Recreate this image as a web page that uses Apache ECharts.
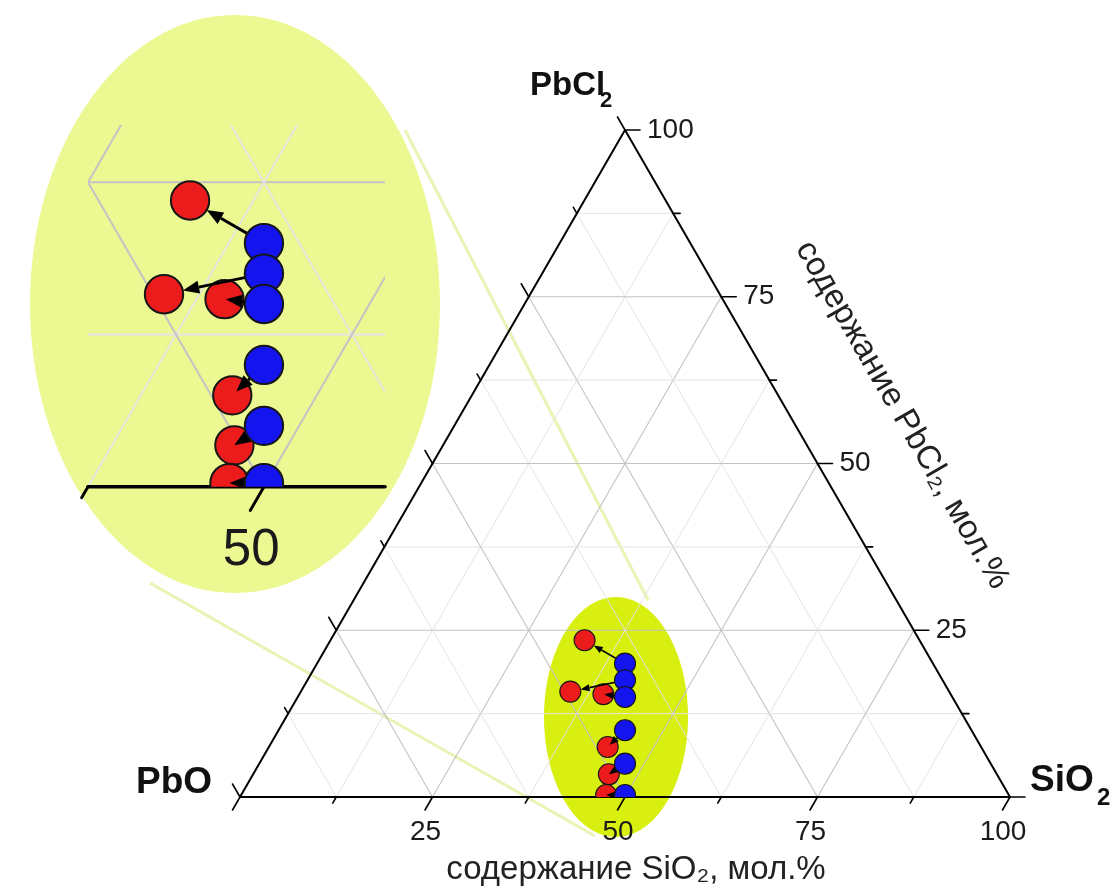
<!DOCTYPE html>
<html>
<head>
<meta charset="utf-8">
<script src="https://cdn.jsdelivr.net/npm/echarts@6.0.0/dist/echarts.min.js"></script>
<style>
  html, body { margin: 0; padding: 0; background: #ffffff; }
  #chart { width: 1120px; height: 889px; }
</style>
</head>
<body>
<div id="chart"></div>
<script>
// PbO – SiO2 – PbCl2 ternary diagram, mol.%
// Starting compositions (blue) and resulting compositions (red)
const blueSiO2  = [40, 41.25, 42.5, 45, 47.5, 49.85];
const bluePbCl2 = [20, 17.5, 15, 10, 5, 0.3];
const redSiO2   = [33.0, 35.0, 39.5, 44.0, 46.2, 47.4];
const redPbCl2  = [23.5, 15.8, 15.4, 7.5, 3.4, 0.3];

// Grid lines and ticks (mol.%)
const gridValues = [12.5, 25, 37.5, 50, 62.5, 75, 87.5];
const tickValues = [0, 12.5, 25, 37.5, 50, 62.5, 75, 87.5, 100];
const majorStep = 25;

// Tick labels: bottom axis = SiO2, right axis = PbCl2
const bottomTickValues = [25, 50, 75, 100];
const bottomTickLabels = ['25', '50', '75', '100'];
const rightTickValues  = [25, 50, 75, 100];
const rightTickLabels  = ['25', '50', '75', '100'];

const FONT = '"Liberation Sans", Arial, Helvetica, sans-serif';
const INSET_K = 1.825;     // magnification of the inset view

// ternary (SiO2, PbCl2) -> cartesian (x, y) in the plot's own units
const tern = (s, p) => [s + p / 2, p];

const chart = echarts.init(document.getElementById('chart'));

function seg(p1, p2, style) {
  return { type: 'line', shape: { x1: p1[0], y1: p1[1], x2: p2[0], y2: p2[1] }, style };
}

function inside(cs, pt) {
  return pt[0] >= cs.x - 1 && pt[0] <= cs.x + cs.width + 1 &&
         pt[1] >= cs.y - 1 && pt[1] <= cs.y + cs.height + 1;
}

function gridLineSeries(gi, k) {
  const data = [];
  gridValues.forEach(v => { data.push([0, v], [1, v], [2, v]); });
  return {
    type: 'custom', xAxisIndex: gi, yAxisIndex: gi, clip: true, z: 2, silent: true,
    data,
    renderItem(params, api) {
      const kind = api.value(0), v = api.value(1);
      let a, b;
      if (kind === 0) { a = tern(0, v); b = tern(100 - v, v); }           // PbCl2 = v
      else if (kind === 1) { a = tern(v, 0); b = tern(v, 100 - v); }      // SiO2 = v
      else { a = tern(100 - v, 0); b = tern(0, 100 - v); }                // PbO = v
      const major = v % majorStep === 0;
      return seg(api.coord(a), api.coord(b), {
        stroke: major ? '#c3c3c3' : '#e4e4e4',
        lineWidth: (major ? 1.1 : 1) * k
      });
    }
  };
}

function edgeSeries(gi, k) {
  return {
    type: 'custom', xAxisIndex: gi, yAxisIndex: gi, clip: false, z: 3, silent: true,
    data: gi === 0 ? [[0], [1], [2]] : [[0]],
    renderItem(params, api) {
      const cs = params.coordSys;
      const kind = api.value(0);
      let p1, p2;
      if (kind === 0) {
        p1 = api.coord(tern(0, 0)); p2 = api.coord(tern(100, 0));
        p1[0] = Math.max(p1[0], cs.x); p2[0] = Math.min(p2[0], cs.x + cs.width);
      } else if (kind === 1) {
        p1 = api.coord(tern(100, 0)); p2 = api.coord(tern(0, 100));
      } else {
        p1 = api.coord(tern(0, 0)); p2 = api.coord(tern(0, 100));
      }
      return seg(p1, p2, { stroke: '#000000', lineWidth: 2 * k, lineCap: 'round' });
    }
  };
}

// tick base point on each axis: 0 = SiO2 (bottom), 1 = PbCl2 (right), 2 = PbO (left)
function tickBase(axis, t) {
  if (axis === 0) return tern(t, 0);
  if (axis === 1) return tern(100 - t, t);
  return tern(0, 100 - t);
}
const tickDir = [[-0.5, 0.866], [1, 0], [-0.5, -0.866]];

function tickSeries(gi, k) {
  const data = [];
  [0, 1, 2].forEach(a => tickValues.forEach(t => data.push([a, t])));
  return {
    type: 'custom', xAxisIndex: gi, yAxisIndex: gi, clip: false, z: 3, silent: true,
    data,
    renderItem(params, api) {
      const axis = api.value(0), t = api.value(1);
      const b = api.coord(tickBase(axis, t));
      if (!inside(params.coordSys, b)) return { type: 'group', children: [] };
      const len = (t % majorStep === 0 ? 15 : 7) * k;
      const d = tickDir[axis];
      return seg(b, [b[0] + d[0] * len, b[1] + d[1] * len],
        { stroke: '#000000', lineWidth: 1.6 * k, lineCap: 'round' });
    }
  };
}

function tickLabelSeries(gi, k) {
  const data = [];
  bottomTickValues.forEach((v, i) => data.push([0, v, i]));
  if (gi === 0) rightTickValues.forEach((v, i) => data.push([1, v, i]));
  return {
    type: 'custom', xAxisIndex: gi, yAxisIndex: gi, clip: false, z: 7, silent: true,
    data,
    renderItem(params, api) {
      const axis = api.value(0), v = api.value(1), i = api.value(2);
      const b = api.coord(tickBase(axis, v));
      if (!inside(params.coordSys, b)) return { type: 'group', children: [] };
      const size = 28 * k;
      if (axis === 0) {
        return { type: 'text', x: b[0] - 7 * k, y: b[1] + 35 * k,
          style: { text: bottomTickLabels[i], font: size + 'px ' + FONT, fill: '#1a1a1a',
                   align: 'center', verticalAlign: 'middle',
                   textAlign: 'center', textVerticalAlign: 'middle' } };
      }
      return { type: 'text', x: b[0] + 22 * k, y: b[1],
        style: { text: rightTickLabels[i], font: size + 'px ' + FONT, fill: '#1a1a1a',
                 align: 'left', verticalAlign: 'middle',
                 textAlign: 'left', textVerticalAlign: 'middle' } };
    }
  };
}

function pointSeries(gi, k, sArr, pArr, fill, z) {
  return {
    type: 'custom', xAxisIndex: gi, yAxisIndex: gi, clip: true, z, silent: true,
    data: sArr.map((s, i) => tern(s, pArr[i])),
    encode: { x: 0, y: 1 },
    renderItem(params, api) {
      const c = api.coord([api.value(0), api.value(1)]);
      return { type: 'circle', shape: { cx: c[0], cy: c[1], r: 10.5 * k },
        style: { fill, stroke: '#161616', lineWidth: 1.1 * k } };
    }
  };
}

function arrowSeries(gi, k) {
  const R = 10.5 * k;
  return {
    type: 'custom', xAxisIndex: gi, yAxisIndex: gi, clip: true, z: 5, silent: true,
    data: blueSiO2.map((s, i) => tern(s, bluePbCl2[i]).concat(tern(redSiO2[i], redPbCl2[i]))),
    renderItem(params, api) {
      const b = api.coord([api.value(0), api.value(1)]);
      const r = api.coord([api.value(2), api.value(3)]);
      const dx = b[0] - r[0], dy = b[1] - r[1];
      const d = Math.sqrt(dx * dx + dy * dy) || 1;
      const ux = dx / d, uy = dy / d;
      const off = Math.min(R, Math.max(0, d - 2 * R));
      const tip = [r[0] + ux * off, r[1] + uy * off];
      const h = 9 * k, w = 3.6 * k;
      const base = [tip[0] + ux * h, tip[1] + uy * h];
      return {
        type: 'group',
        children: [
          seg(b, base, { stroke: '#000000', lineWidth: 1.6 * k }),
          { type: 'polygon', shape: { points: [tip,
              [base[0] - uy * w, base[1] + ux * w],
              [base[0] + uy * w, base[1] - ux * w]] },
            style: { fill: '#000000' } }
        ]
      };
    }
  };
}

function layer(gi, k) {
  return [
    gridLineSeries(gi, k),
    edgeSeries(gi, k),
    tickSeries(gi, k),
    tickLabelSeries(gi, k),
    pointSeries(gi, k, redSiO2, redPbCl2, '#ec1c1c', 4),
    arrowSeries(gi, k),
    pointSeries(gi, k, blueSiO2, bluePbCl2, '#1414ee', 6)
  ];
}

const txt = (x, y, text, size, opts = {}) => Object.assign({
  type: 'text', x, y, z: 10, silent: true,
  style: Object.assign({ text, font: size + 'px ' + FONT, fill: '#111111',
    align: 'left', verticalAlign: 'middle', textAlign: 'left', textVerticalAlign: 'middle' }, opts.style || {})
}, opts.el || {});

chart.setOption({
  animation: false,
  backgroundColor: '#ffffff',
  grid: [
    { left: 240, top: 130, width: 770, height: 667 },          // full triangle
    { left: 88, top: 125, width: 297, height: 361.7 }           // magnified view
  ],
  xAxis: [
    { type: 'value', gridIndex: 0, min: 0, max: 100, show: false },
    { type: 'value', gridIndex: 1, min: 37.5, max: 58.6, show: false }
  ],
  yAxis: [
    { type: 'value', gridIndex: 0, min: 0, max: 100, show: false },
    { type: 'value', gridIndex: 1, min: 0, max: 29.7, show: false }
  ],
  graphic: [
    { type: 'ellipse', z: 0, silent: true, shape: { cx: 235, cy: 304, rx: 205, ry: 289 },
      style: { fill: '#ecf892' } },
    { type: 'line', z: 0, silent: true, shape: { x1: 405, y1: 130, x2: 648, y2: 600 },
      style: { stroke: '#e8f3b4', lineWidth: 3 } },
    { type: 'line', z: 0, silent: true, shape: { x1: 150, y1: 583, x2: 595, y2: 836 },
      style: { stroke: '#e8f3b4', lineWidth: 3 } },
    { type: 'ellipse', z: 0, silent: true, shape: { cx: 616, cy: 717, rx: 72, ry: 120 },
      style: { fill: '#d8ef10' } },

    // vertex names
    txt(530, 86, 'PbCl', 33, { style: { font: 'bold 33px ' + FONT } }),
    txt(600, 101, '2', 22, { style: { font: 'bold 22px ' + FONT } }),
    txt(136, 783, 'PbO', 37, { style: { font: 'bold 37px ' + FONT } }),
    txt(1030, 781, 'SiO', 37, { style: { font: 'bold 37px ' + FONT } }),
    txt(1097, 798, '2', 24, { style: { font: 'bold 24px ' + FONT } }),

    // axis titles
    txt(636, 870, 'содержание SiO₂, мол.%', 33,
      { style: { align: 'center', textAlign: 'center', fill: '#222222' } }),
    txt(902, 415, 'содержание PbCl₂, мол.%', 33,
      { style: { align: 'center', textAlign: 'center', fill: '#222222' },
        el: { rotation: -Math.PI / 3 } })
  ],
  series: layer(0, 1).concat(layer(1, INSET_K))
});
</script>
</body>
</html>
